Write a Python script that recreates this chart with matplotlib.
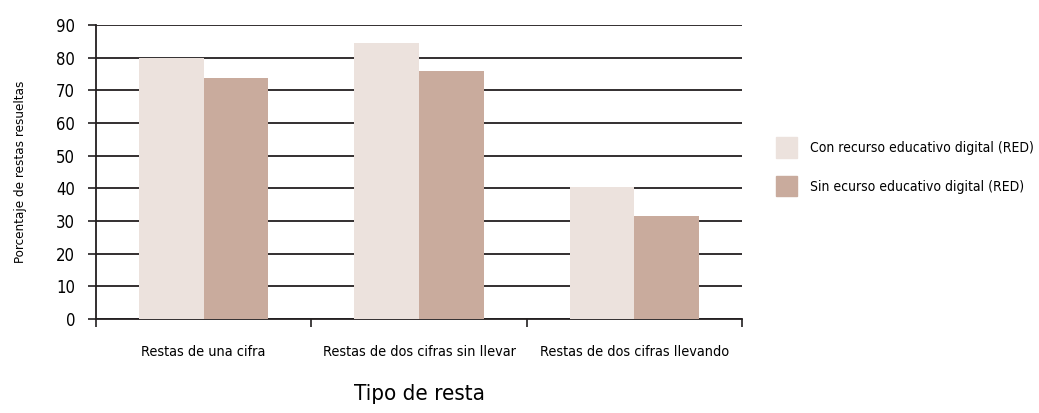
import matplotlib.pyplot as plt
import numpy as np
from matplotlib.patches import Patch

categorias = ['Restas de una cifra', 'Restas de dos cifras sin llevar', 'Restas de dos cifras llevando']
con_red = [80, 84.5, 40.3]
sin_red = [73.8, 75.8, 31.6]
series = ['Con recurso educativo digital (RED)', 'Sin ecurso educativo digital (RED)']

plt.rcParams['font.family'] = ['DejaVu Sans']
plt.rcParams['font.stretch'] = 'condensed'

fig = plt.figure(figsize=(10.39, 4.13), dpi=100)
ax = fig.add_axes([0.0924, 0.2276, 0.6218, 0.7119])

x = np.arange(len(categorias))
w = 0.3
c1 = '#ece2dd'
c2 = '#c9ab9d'
ax.bar(x - w / 2, con_red, w, color=c1, zorder=3)
ax.bar(x + w / 2, sin_red, w, color=c2, zorder=3)

ax.set_xlim(-0.5, 2.5)
ax.set_ylim(0, 90)
ax.set_yticks(range(0, 91, 10))
ax.yaxis.grid(True, color='#231f20', linewidth=1.3, zorder=0)
ax.set_axisbelow(True)

# ticks entre categorias
ax.set_xticks([-0.5, 0.5, 1.5, 2.5])
ax.set_xticklabels([])
ax.set_xticks(x, minor=True)
ax.set_xticklabels(categorias, minor=True, fontsize=10.4)
ax.tick_params(axis='x', which='minor', length=0, pad=19)
ax.tick_params(axis='x', which='major', length=6, width=1.2, color='#231f20', direction='out')
ax.tick_params(axis='y', length=6, width=1.2, color='#231f20', labelsize=12, pad=9)

for s in ['top', 'right']:
    ax.spines[s].set_visible(False)
for s in ['left', 'bottom']:
    ax.spines[s].set_color('#231f20')
    ax.spines[s].set_linewidth(1.3)

ax.set_ylabel('Porcentaje de restas resueltas', fontsize=9.6, labelpad=21)
ax.set_xlabel('Tipo de resta', fontsize=16, labelpad=18)

handles = [Patch(color=c1), Patch(color=c2)]
fig.legend(handles, series, loc='center left', bbox_to_anchor=(0.735, 0.596),
           frameon=False, fontsize=10, handlelength=1.5, handleheight=1.9,
           labelspacing=1.3, handletextpad=0.95)

plt.savefig('out.png', dpi=100)
